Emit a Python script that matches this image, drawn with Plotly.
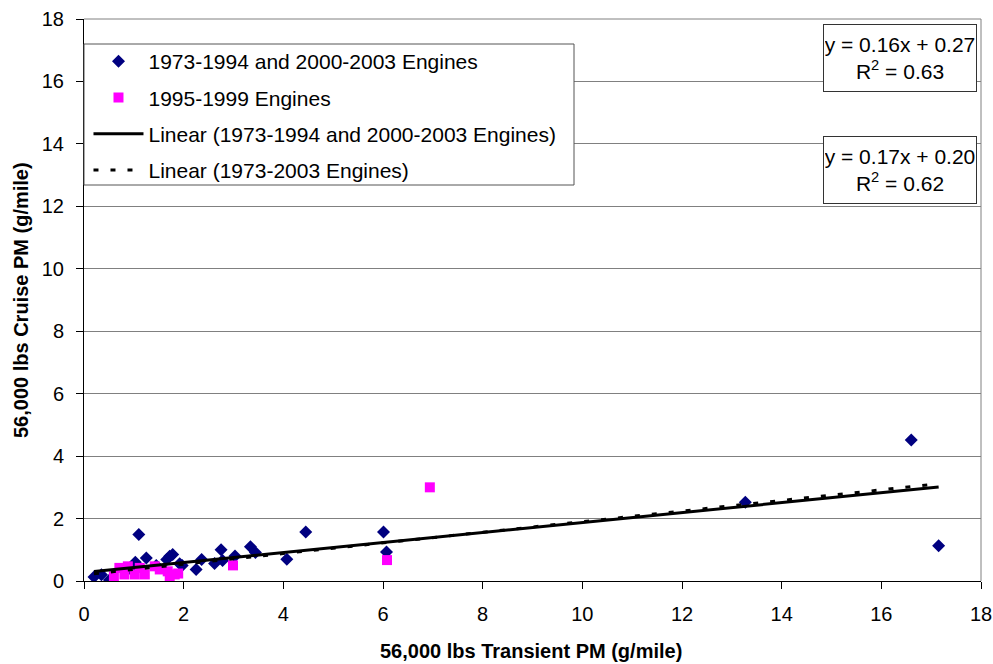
import plotly.graph_objects as go
import numpy as np

# Series 1: 1973-1994 and 2000-2003 Engines
s1_x = [0.20, 0.35, 0.51, 0.95, 1.03, 1.10, 1.25, 1.45, 1.66, 1.72, 1.78, 1.92, 1.97,
        2.25, 2.36, 2.62, 2.75, 2.78, 3.03, 3.34, 3.44, 4.07, 4.45, 6.01, 6.07,
        13.27, 16.60, 17.15]
s1_y = [0.13, 0.20, 0.03, 0.36, 0.60, 1.49, 0.74, 0.50, 0.69, 0.79, 0.85, 0.55, 0.50,
        0.37, 0.69, 0.56, 1.00, 0.66, 0.80, 1.10, 0.91, 0.70, 1.57, 1.57, 0.93,
        2.52, 4.52, 1.13]

# Series 2: 1995-1999 Engines
s2_x = [0.60, 0.71, 0.81, 0.88, 1.02, 1.12, 1.22, 1.42, 1.52, 1.68, 1.72, 1.82, 1.89,
        2.99, 6.08, 6.94]
s2_y = [0.15, 0.42, 0.21, 0.47, 0.21, 0.42, 0.21, 0.47, 0.37, 0.31, 0.15, 0.21, 0.24,
        0.50, 0.67, 3.00]

# Trendline coefficients (as labelled on chart)
fit1 = {"slope": 0.16, "intercept": 0.27, "r2": 0.63}
fit_all = {"slope": 0.17, "intercept": 0.20, "r2": 0.62}

x_ticks = list(range(0, 19, 2))
y_ticks = list(range(0, 19, 2))

FONT = "Liberation Sans, Arial, sans-serif"

fx1 = np.array([min(s1_x), max(s1_x)])
fy1 = fit1["slope"] * fx1 + fit1["intercept"]
all_x = s1_x + s2_x
fxa = np.array([min(all_x), max(all_x)])
fya = fit_all["slope"] * fxa + fit_all["intercept"]

fig = go.Figure()
fig.add_trace(go.Scatter(x=s1_x, y=s1_y, mode="markers", name="1973-1994 and 2000-2003 Engines",
                         legendgroup="a",
                         marker=dict(symbol="diamond", size=10, color="#000080")))
fig.add_trace(go.Scatter(x=s2_x, y=s2_y, mode="markers", name="1995-1999 Engines",
                         legendgroup="b",
                         marker=dict(symbol="square", size=10, color="#FF00FF")))
fig.add_trace(go.Scatter(x=fx1, y=fy1, mode="lines", name="Linear (1973-1994 and 2000-2003 Engines)",
                         legendgroup="c",
                         line=dict(color="black", width=3)))
fig.add_trace(go.Scatter(x=fxa, y=fya, mode="lines", name="Linear (1973-2003 Engines)",
                         legendgroup="d",
                         line=dict(color="black", width=3, dash="5px,12px")))

W, H = 993, 664
L, R, T, B = 84, 12, 19, 83
pw = W - L - R
ph = H - T - B

def px2paper_x(px):
    return (px - L) / pw

def px2paper_y(py):
    return (H - B - py) / ph

shapes = [
    # legend box
    dict(type="rect", xref="paper", yref="paper",
         x0=px2paper_x(84), x1=px2paper_x(574), y0=px2paper_y(185), y1=px2paper_y(44),
         fillcolor="white", line=dict(color="#555555", width=1), layer="above"),
    # plot area top and right border
    dict(type="line", xref="paper", yref="paper", x0=0, x1=1, y0=1, y1=1,
         line=dict(color="#808080", width=1)),
    dict(type="line", xref="paper", yref="paper", x0=1, x1=1, y0=0, y1=1,
         line=dict(color="#808080", width=1)),
]

eq_font = dict(family=FONT, size=21, color="black")
annotations = [
    dict(xref="paper", yref="paper", x=px2paper_x(899.5), y=px2paper_y(58),
         text=f"y = {fit1['slope']:.2f}x + {fit1['intercept']:.2f}<br>R<sup>2</sup> = {fit1['r2']:.2f}",
         showarrow=False, font=eq_font,
         bordercolor="#333333", borderwidth=1, bgcolor="white", width=150, height=64,
         xanchor="center", yanchor="middle"),
    dict(xref="paper", yref="paper", x=px2paper_x(899.5), y=px2paper_y(169.5),
         text=f"y = {fit_all['slope']:.2f}x + {fit_all['intercept']:.2f}<br>R<sup>2</sup> = {fit_all['r2']:.2f}",
         showarrow=False, font=eq_font,
         bordercolor="#333333", borderwidth=1, bgcolor="white", width=150, height=64,
         xanchor="center", yanchor="middle"),
    dict(xref="paper", yref="paper", x=px2paper_x(531), y=px2paper_y(651),
         text="<b>56,000 lbs Transient PM (g/mile)</b>", showarrow=False,
         font=dict(family=FONT, size=20, color="black"), xanchor="center", yanchor="middle"),
    dict(xref="paper", yref="paper", x=px2paper_x(21), y=0.5,
         text="<b>56,000 lbs Cruise PM (g/mile)</b>", showarrow=False, textangle=-90,
         font=dict(family=FONT, size=20, color="black"), xanchor="center", yanchor="middle"),
]

fig.update_layout(
    width=W, height=H,
    margin=dict(l=L, r=R, t=T, b=B, autoexpand=False),
    paper_bgcolor="white", plot_bgcolor="white",
    font=dict(family=FONT, size=20, color="black"),
    showlegend=True,
    legend=dict(x=0.005, y=px2paper_y(41), xanchor="left", yanchor="top",
                bgcolor="rgba(0,0,0,0)", borderwidth=0,
                font=dict(family=FONT, size=21, color="black"),
                tracegroupgap=6, itemwidth=50),
    shapes=shapes,
    annotations=annotations,
    xaxis=dict(range=[0, 18], tickvals=x_ticks, ticktext=[str(v) for v in x_ticks],
               showgrid=False, zeroline=False, showline=True, linecolor="black", linewidth=1,
               ticks="outside", ticklen=7, tickcolor="black", ticklabelstandoff=8,
               ticklabeloverflow="allow",
               tickfont=dict(family=FONT, size=20, color="black")),
    yaxis=dict(range=[0, 18], tickvals=y_ticks, ticktext=[str(v) for v in y_ticks],
               showgrid=True, gridcolor="#808080", gridwidth=1, zeroline=False,
               showline=True, linecolor="black", linewidth=1,
               ticks="outside", ticklen=7, tickcolor="black", ticklabelstandoff=8,
               ticklabeloverflow="allow",
               tickfont=dict(family=FONT, size=20, color="black")),
)

fig.write_html(
    "out.html",
    config={"displayModeBar": False},
    post_script="document.body.style.margin='0px';"
                "document.documentElement.style.overflow='hidden';",
)
